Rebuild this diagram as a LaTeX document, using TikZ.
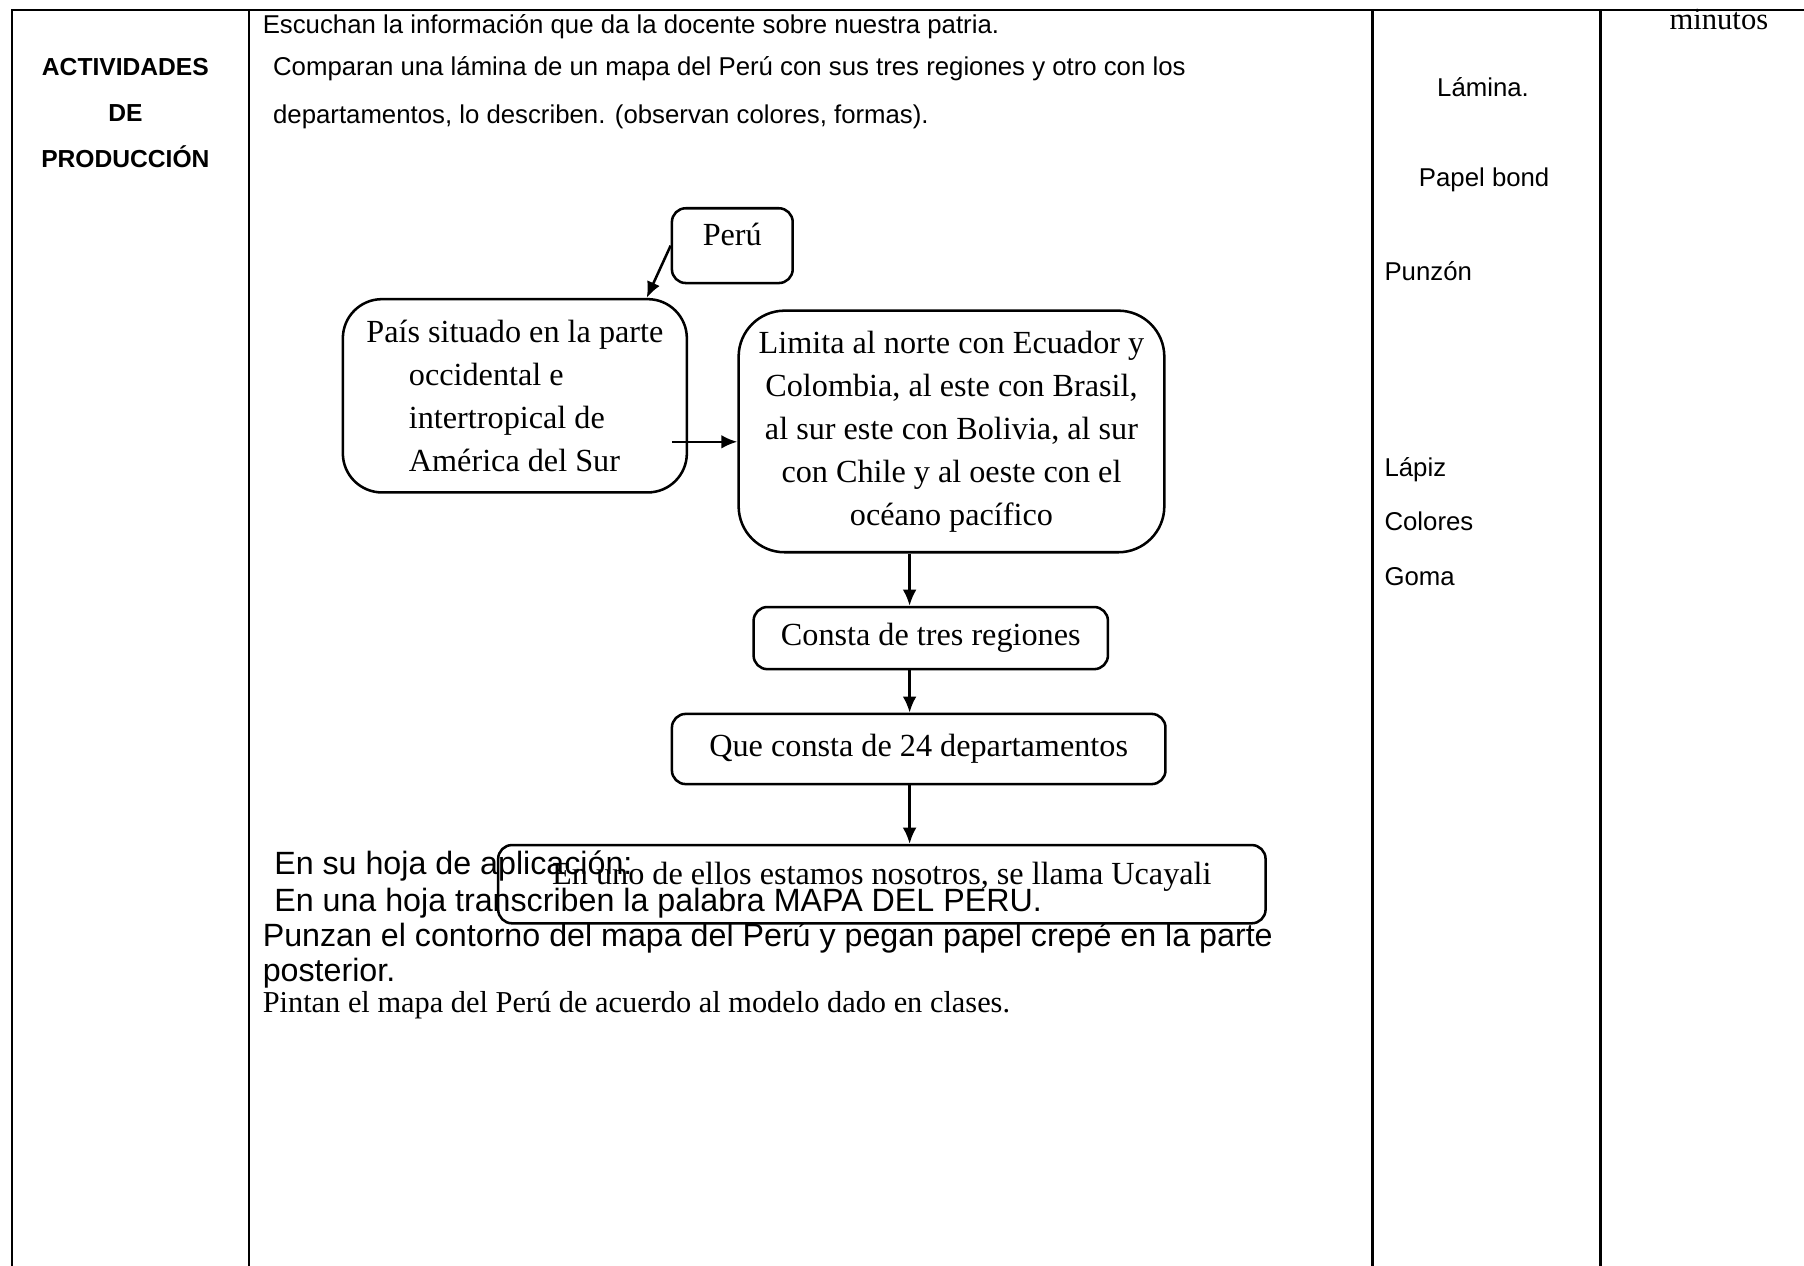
\documentclass[tikz,border=0pt]{standalone}
\usepackage{fontspec}
\setmainfont{Liberation Serif}
\setsansfont{Liberation Sans}
\usetikzlibrary{positioning,arrows.meta}
\tikzset{
    rule/.style={line width=1pt},
    cell/.style={inner sep=0pt,font=\sffamily\fontsize{11.2}{13}\selectfont},
    head/.style={inner sep=0pt,anchor=base,font=\sffamily\bfseries\fontsize{10.7}{13}\selectfont},
    note/.style={inner sep=0pt,anchor=base west,font=\sffamily\fontsize{14}{16}\selectfont},
    flowbox/.style={rectangle,rounded corners=6pt,draw=black,line width=1.1pt,inner sep=0pt,font=\fontsize{14}{18.7}\selectfont},
    hightext/.style={text height=10pt,text depth=10pt},
    link/.style={->,line width=1.1pt},
}

\begin{document}
\begin{tikzpicture}[x=0.5pt,y=-0.5pt,>={Latex[length=7pt,width=6pt]}]
\useasboundingbox (0,0) rectangle (1568,1100);
% table
\draw[rule] (10.4,1100) -- (10.4,8.7) -- (1568,8.7);
\draw[rule] (216.5,8.7) -- (216.5,1100);
\draw[rule] (1193,8.7) -- (1193,1100);
\draw[rule] (1391,8.7) -- (1391,1100);
\node[head] (act) at (109,65.5) {ACTIVIDADES};
\node[head] (de) at (109,105.5) {DE};
\node[head] (prod) at (109,145.5) {PRODUCCIÓN};
\node[cell,anchor=base west] (listen) at (228,29) {Escuchan la información que da la docente sobre nuestra patria.};
\node[cell,anchor=base west] (compare) at (237,66) {Comparan una lámina de un mapa del Perú con sus tres regiones y otro con los};
\node[cell,anchor=base west] (describe) at (237,107) {departamentos, lo describen. (observan colores, formas).};
\node[cell,anchor=base] (lamina) at (1289,84) {Lámina.};
\node[cell,anchor=base] (bond) at (1290,162) {Papel bond};
\node[cell,anchor=base west] (punzon) at (1203,244) {Punzón};
\node[cell,anchor=base west] (lapiz) at (1203,414) {Lápiz};
\node[cell,anchor=base west] (colores) at (1203,461) {Colores};
\node[cell,anchor=base west] (goma) at (1203,509) {Goma};
\node[inner sep=0pt,anchor=base,font=\fontsize{13.3}{15}\selectfont] (minutos) at (1494,26) {minutos};
% flow
\node[flowbox,hightext,minimum width=52.5pt,minimum height=32.5pt] (peru) at (636.5,213.5) {Perú};
\node[flowbox,rounded corners=17pt,align=left,minimum width=149.5pt,minimum height=84pt] (pais) at (447.5,344) {País situado en la parte\\\hspace*{18.5pt}occidental e\\\hspace*{18.5pt}intertropical de\\\hspace*{18.5pt}América del Sur};
\node[flowbox,rounded corners=20pt,align=center,minimum width=185pt,minimum height=105pt] (limita) at (827,375) {Limita al norte con Ecuador y\\ Colombia, al este con Brasil,\\ al sur este con Bolivia, al sur\\ con Chile y al oeste con el\\ océano pacífico};
\node[flowbox,minimum width=154pt,minimum height=27pt] (consta) at (809,554.6) {Consta de tres regiones};
\node[flowbox,minimum width=214.5pt,minimum height=30.5pt] (que) at (798.5,651) {Que consta de 24 departamentos};
\node[flowbox,hightext,minimum width=333.5pt,minimum height=34pt] (enuno) at (766.5,768.5) {En uno de ellos estamos nosotros, se llama Ucayali};
\coordinate (spine) at (790.6,0);
\coordinate (tail) at (584,384);
\draw[link] (peru.west) -- ([xshift=-18pt]pais.north east);
\draw[link] (tail) -- (tail -| limita.west);
\draw[link] (limita.south -| spine) -- (consta.north -| spine);
\draw[link] (consta.south -| spine) -- (que.north -| spine);
\draw[link] (que.south -| spine) -- (enuno.north -| spine);
% application sheet
\node[note] (hoja) at (238,760) {En su hoja de aplicación:};
\node[note] (mapa) at (238,792) {En una hoja transcriben la palabra MAPA DEL PERU.};
\node[note] (punzan) at (228,823) {Punzan el contorno del mapa del Perú y pegan papel crepé en la parte};
\node[note] (post) at (228,853) {posterior.};
\node[inner sep=0pt,anchor=base west,font=\fontsize{13.2}{15}\selectfont] (pintan) at (228,880) {Pintan el mapa del Perú de acuerdo al modelo dado en clases.};
\end{tikzpicture}
\end{document}
